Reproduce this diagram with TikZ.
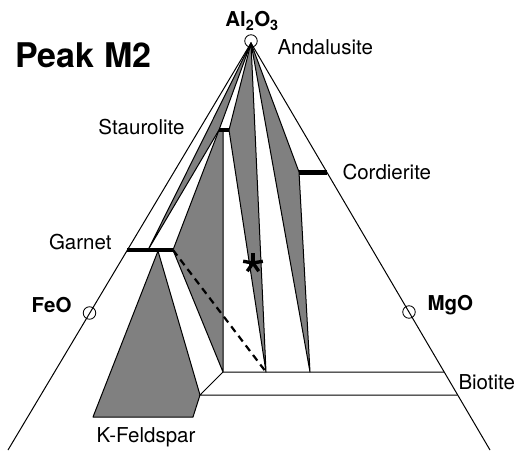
\documentclass[tikz,border=0pt]{standalone}
\usepackage{fontspec}
\setmainfont{TeX Gyre Heros}
\usetikzlibrary{positioning}
\definecolor{phasegray}{RGB}{128,128,128}

\begin{document}
\begin{tikzpicture}[x=1pt,y=-1pt,
    line width=1pt,
    field/.style={draw,fill=phasegray,line join=round},
    solidsol/.style={line width=#1},
    solidsol/.default=4pt,
    lbl/.style={inner sep=0,font=\fontsize{20.5}{24}\selectfont},
    comp/.style={inner sep=0,font=\fontsize{20.5}{24}\selectfont\bfseries},
    pole/.style={draw,circle,minimum size=12.5pt,inner sep=0,line width=0.8pt}
    ]
    \useasboundingbox (0,0) rectangle (517,452);
    %%% hoekpunten en fasen
    \coordinate (apex) at (251,43);
    \coordinate (lend) at (8,450);
    \coordinate (rend) at (490,450);
    \coordinate (grtL) at (127,250);
    \coordinate (grtA) at (148,250);
    \coordinate (grtK) at (158,251);
    \coordinate (grtR) at (173,250);
    \coordinate (stL) at (219,130);
    \coordinate (stM) at (223,130);
    \coordinate (stR) at (229,130);
    \coordinate (crdL) at (299,172);
    \coordinate (crdR) at (327,172);
    \coordinate (btA) at (223,372);
    \coordinate (btB) at (266,372);
    \coordinate (btC) at (310,372);
    \coordinate (btR) at (444,372);
    \coordinate (btLL) at (200,395);
    \coordinate (btLR) at (457.6,395);
    \coordinate (kfL) at (93,417);
    \coordinate (kfR) at (193,417);
    \coordinate (star) at (253,263);
    %%% drie-fasen velden
    \path[field] (apex) -- (grtA) -- (stL) -- cycle;
    \path[field] (grtR) -- (stL) -- (stM) -- (btA) -- cycle;
    \path[field] (apex) -- (stR) -- (btB) -- cycle;
    \path[field] (apex) -- (crdL) -- (btC) -- cycle;
    \path[field] (grtK) -- (btLL) -- (kfR) -- (kfL) -- cycle;
    %%% zijden van de driehoek
    \draw (lend) -- (apex) -- (rend);
    %%% biotiet band
    \draw (btR) -- (btA) -- (btLL) -- (btLR);
    \draw[dash pattern=on 7pt off 5pt,line width=2.2pt] (grtR) -- (btB);
    %%% vaste oplossingen
    \draw[solidsol] (grtL) -- (grtR);
    \draw[solidsol] (stL) -- (stR);
    \draw[solidsol=5pt] (crdL) -- (crdR);
    \foreach \a in {-90,-10,-170,55,125}
        \draw[line width=3.4pt] (star) -- ++(\a:10);
    %%% polen
    \node[pole] (alpole) at (251,41) {};
    \node[pole] (feopole) at (89.5,313) {};
    \node[pole] (mgopole) at (409,312) {};
    %%% labels
    \node[comp,anchor=base] (al2o3) at (252,27) {Al\textsubscript{2}O\textsubscript{3}};
    \node[comp,anchor=base east] (feo) at (72,312) {FeO};
    \node[comp,anchor=base west] (mgo) at (427,310) {MgO};
    \node[inner sep=0,anchor=base west,font=\fontsize{34}{40}\selectfont\bfseries] (title) at (15,67) {Peak M2};
    \node[lbl,anchor=base west] (andalusite) at (277,55) {Andalusite};
    \node[lbl,anchor=base east] (staurolite) at (185,135) {Staurolite};
    \node[lbl,anchor=base east] (garnet) at (112,249) {Garnet};
    \node[lbl,right=15pt of crdR] (cordierite) {Cordierite};
    \node[lbl,anchor=base west] (biotite) at (458,389) {Biotite};
    \node[lbl,anchor=base] (kfeldspar) at (146,442) {K-Feldspar};
\end{tikzpicture}
\end{document}
